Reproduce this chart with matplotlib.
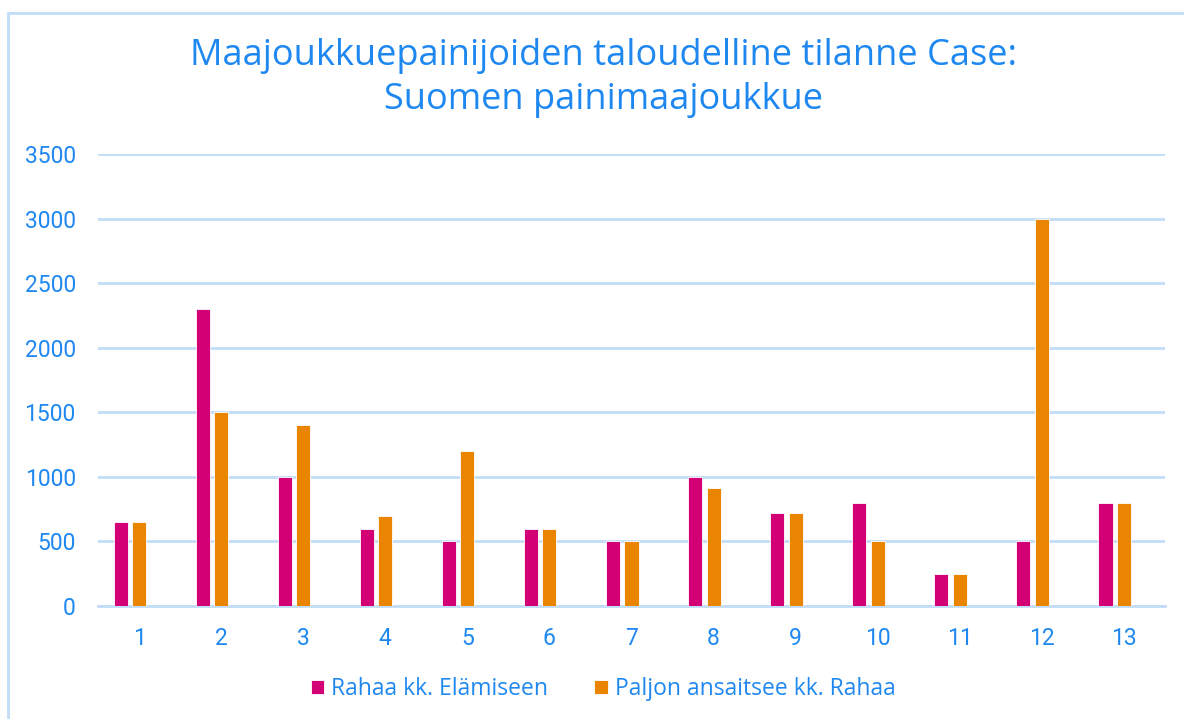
import matplotlib
matplotlib.use("Agg")
import matplotlib.pyplot as plt
from matplotlib.patches import Rectangle
import numpy as np

categories = ["1", "2", "3", "4", "5", "6", "7", "8", "9", "10", "11", "12", "13"]
rahaa_elamiseen = [650, 2300, 1000, 600, 500, 600, 500, 1000, 720, 800, 250, 500, 800]
paljon_ansaitsee = [650, 1500, 1400, 700, 1200, 600, 500, 910, 720, 500, 250, 3000, 800]
series_names = ["Rahaa kk. Elämiseen", "Paljon ansaitsee kk. Rahaa"]
yticks = [0, 500, 1000, 1500, 2000, 2500, 3000, 3500]
title = "Maajoukkuepainijoiden taloudelline tilanne Case:\nSuomen painimaajoukkue"

MAGENTA = "#D20074"
ORANGE = "#E98500"
TEXT = "#1E88F0"
GRID = "#C2DDF7"

W, H = 1184, 719
fig = plt.figure(figsize=(W / 100, H / 100), dpi=100)

# chart border
fig.patches.append(Rectangle((8 / W, -0.1), 1.2, (H - 13) / H + 0.1, transform=fig.transFigure,
                             fill=False, edgecolor=GRID, linewidth=2))

ax = fig.add_axes([98 / W, (H - 606) / H, (1165 - 98) / W, 452 / H])
x = np.arange(len(categories))
step = 0.225
bw = 0.172
ax.bar(x - step, rahaa_elamiseen, bw, color=MAGENTA, edgecolor="white", linewidth=0.6,
       label=series_names[0], zorder=3)
ax.bar(x, paljon_ansaitsee, bw, color=ORANGE, edgecolor="white", linewidth=0.6,
       label=series_names[1], zorder=3)

ax.set_xlim(-0.5, len(categories) - 0.5)
ax.set_ylim(0, 3500)
ax.set_yticks(yticks)
ax.set_yticklabels([str(v) for v in yticks])
ax.set_xticks(x)
ax.set_xticklabels(categories)
ax.grid(axis="y", color=GRID, linewidth=2, zorder=0)
ax.set_axisbelow(True)
for s in ["top", "right", "left"]:
    ax.spines[s].set_visible(False)
ax.spines["bottom"].set_color(GRID)
ax.spines["bottom"].set_linewidth(2)
ax.tick_params(axis="both", length=0, labelcolor=TEXT, labelsize=16.5)
ax.tick_params(axis="y", pad=16)
ax.tick_params(axis="x", pad=15)
for lab in ax.get_xticklabels() + ax.get_yticklabels():
    lab.set_fontfamily("Roboto")

fig.text(603 / W, 1 - 78 / H, title, ha="center", va="center",
         fontsize=26, color=TEXT, family="Open Sans", linespacing=1.32)

leg = fig.legend(loc="center", bbox_to_anchor=(603 / W, 1 - 689 / H), ncol=2, frameon=False,
                 handlelength=0.6, handleheight=0.6, handletextpad=0.3,
                 columnspacing=2.0, labelcolor=TEXT, prop={"family": "Open Sans", "size": 16.5})

fig.savefig("out.png", dpi=100)
